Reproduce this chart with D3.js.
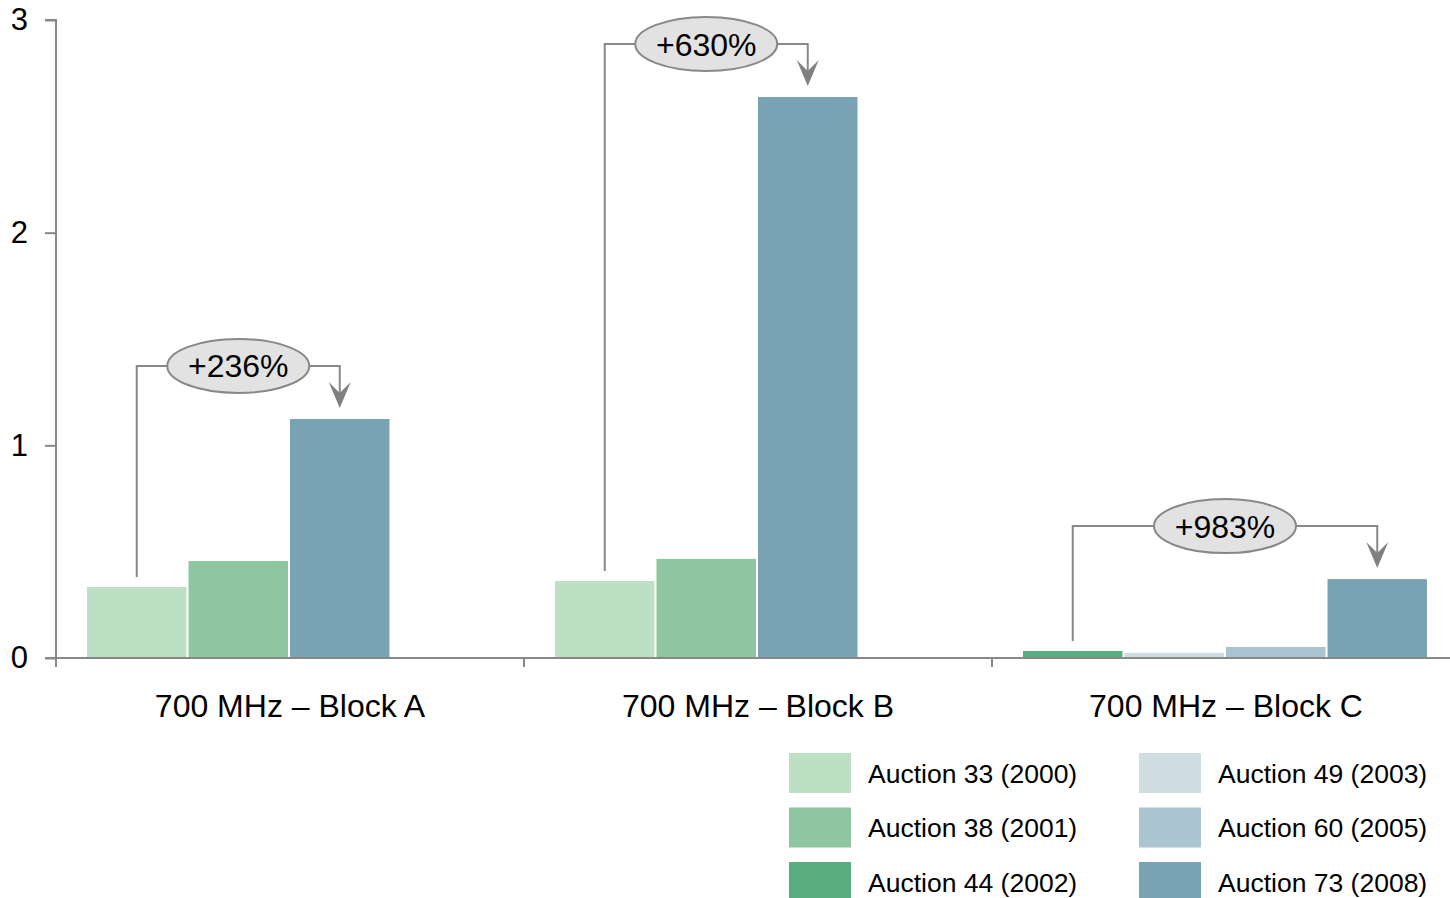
<!DOCTYPE html>
<html><head><meta charset="utf-8">
<script src="https://cdn.jsdelivr.net/npm/d3@7"></script>
<style>body{margin:0;background:#fff;} svg{display:block;font-family:"Liberation Sans",Arial,sans-serif;}</style>
</head><body>
<svg id="chart" width="1450" height="898"></svg>
<script>
const categories = ["700 MHz \u2013 Block A", "700 MHz \u2013 Block B", "700 MHz \u2013 Block C"];
const seriesNames = ["Auction 33 (2000)", "Auction 38 (2001)", "Auction 44 (2002)", "Auction 49 (2003)", "Auction 60 (2005)", "Auction 73 (2008)"];
const seriesColors = ["#bde0c5", "#8dc6a0", "#5aad80", "#d0dee3", "#aac5cf", "#79a3b3"];
// bars per category: series name + value
const blockA = [["Auction 33 (2000)", 0.334], ["Auction 38 (2001)", 0.456], ["Auction 73 (2008)", 1.124]];
const blockB = [["Auction 33 (2000)", 0.362], ["Auction 38 (2001)", 0.466], ["Auction 73 (2008)", 2.638]];
const blockC = [["Auction 44 (2002)", 0.033], ["Auction 49 (2003)", 0.024], ["Auction 60 (2005)", 0.052], ["Auction 73 (2008)", 0.371]];
const groupBars = [blockA, blockB, blockC];
const changeLabels = ["+236%", "+630%", "+983%"];
const yTicks = [0, 1, 2, 3];

const svg = d3.select("#chart");
const mLeft = 56, mRight = 1460, mTop = 20, mBottom = 658;
const x = d3.scaleBand().domain(categories).range([mLeft, mRight]);
const slot = d3.scaleBand().domain([0,1,2,3]).range([31, 435]).paddingInner(0.02);
const y = d3.scaleLinear().domain([0, 3]).range([mBottom, mTop]);
const color = d3.scaleOrdinal().domain(seriesNames).range(seriesColors);
const axisColor = "#888";

// bars
categories.forEach((c, gi) => {
  const g = svg.append("g").attr("transform", `translate(${x(c)},0)`);
  g.selectAll("rect").data(groupBars[gi]).join("rect")
    .attr("x", (d, i) => slot(i))
    .attr("width", slot.bandwidth())
    .attr("y", d => y(d[1]))
    .attr("height", d => y(0) - y(d[1]))
    .attr("fill", d => color(d[0]));
});

// y axis
const yAxis = svg.append("g").attr("transform", `translate(${mLeft},0)`)
  .call(d3.axisLeft(y).tickValues(yTicks).tickFormat(d3.format("d")).tickSize(11).tickPadding(17));
yAxis.select(".domain").attr("stroke", axisColor).attr("stroke-width", 2).attr("d", `M-11,${mTop}H0V${mBottom}`);
yAxis.selectAll(".tick line").attr("stroke", axisColor).attr("stroke-width", 2);
yAxis.selectAll(".tick text").attr("fill", "#000").style("font-size", "31px").attr("font-family", "Liberation Sans, Arial, sans-serif");

// x axis
const xAxis = svg.append("g").attr("transform", `translate(0,${mBottom})`)
  .call(d3.axisBottom(x).tickSize(0).tickPadding(36));
xAxis.select(".domain").attr("stroke", axisColor).attr("stroke-width", 2).attr("d", `M${mLeft - 11},0H${mRight}`);
xAxis.selectAll(".tick text").attr("fill", "#000").style("font-size", "32px").attr("font-family", "Liberation Sans, Arial, sans-serif");
xAxis.selectAll(".sep").data(categories).join("line").attr("class", "sep")
  .attr("x1", d => x(d)).attr("x2", d => x(d)).attr("y1", 0).attr("y2", 9)
  .attr("stroke", axisColor).attr("stroke-width", 2);

// annotations
categories.forEach((c, gi) => {
  const bars = groupBars[gi];
  const first = bars[0], last = bars[bars.length - 1];
  const x1 = x(c) + slot(0) + slot.bandwidth() / 2;
  const x2 = x(c) + slot(bars.length - 1) + slot.bandwidth() / 2;
  const y1 = y(first[1]) - 10;
  const tipY = y(last[1]) - 11;
  const hy = y(last[1]) - 53;
  const g = svg.append("g");
  g.append("path")
    .attr("d", `M${x1},${y1}V${hy}H${x2}V${tipY - 15}`)
    .attr("fill", "none").attr("stroke", axisColor).attr("stroke-width", 2);
  g.append("path")
    .attr("d", `M${x2},${tipY}L${x2 - 11},${tipY - 26}L${x2},${tipY - 15}L${x2 + 11},${tipY - 26}Z`)
    .attr("fill", "#808080");
  const cx = (x1 + x2) / 2;
  g.append("ellipse").attr("cx", cx).attr("cy", hy).attr("rx", 71).attr("ry", 27)
    .attr("fill", "#e2e2e2").attr("stroke", axisColor).attr("stroke-width", 2);
  g.append("text").attr("x", cx).attr("y", hy).attr("text-anchor", "middle").attr("dy", "0.36em")
    .style("font-size", "32px").attr("fill", "#000").text(changeLabels[gi]);
});

// legend
const legend = svg.append("g");
seriesNames.forEach((s, i) => {
  const col = Math.floor(i / 3), row = i % 3;
  const lx = 789 + col * 350, ly = 753 + row * 54.5;
  legend.append("rect").attr("x", lx).attr("y", ly).attr("width", 62).attr("height", 40).attr("fill", color(s));
  legend.append("text").attr("x", lx + 79).attr("y", ly + 20).attr("dy", "0.36em")
    .style("font-size", "26.5px").attr("fill", "#000").text(s);
});
</script>
</body></html>
